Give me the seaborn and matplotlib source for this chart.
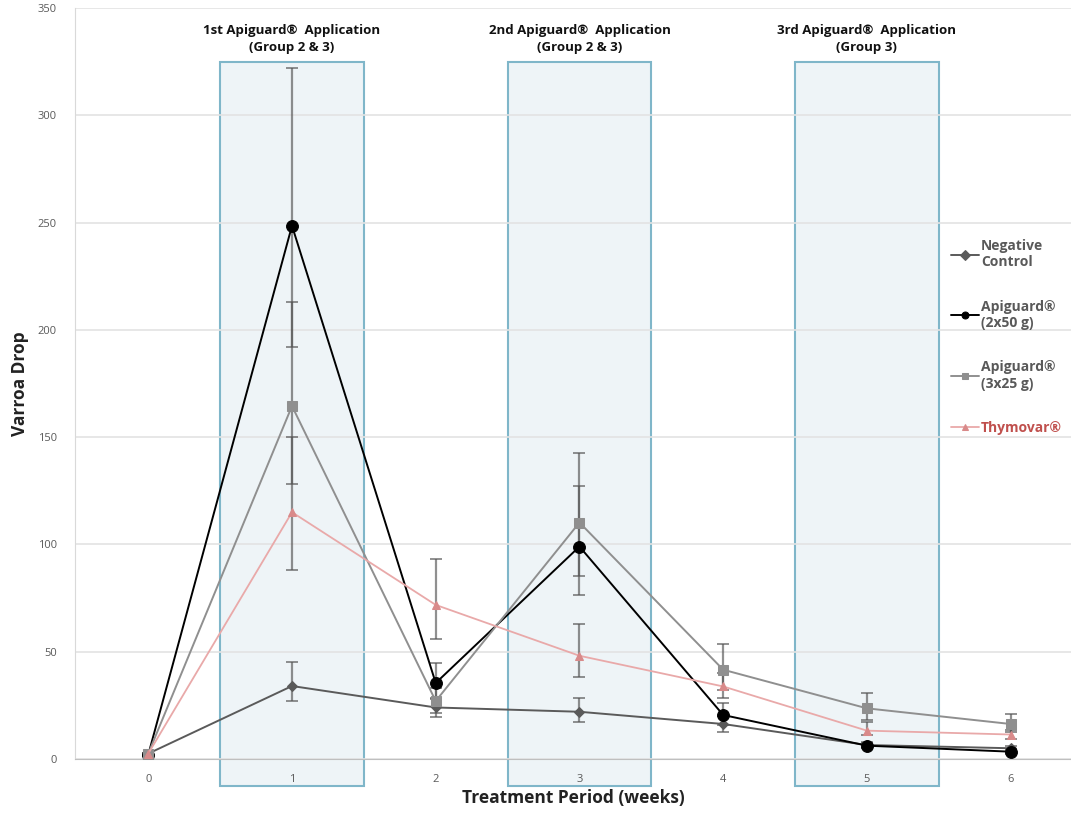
import numpy as np
import pandas as pd
import matplotlib.pyplot as plt
import seaborn as sns
from matplotlib.patches import Rectangle

# weeks of the treatment period
weeks = [0, 1, 2, 3, 4, 5, 6]

series_names = ["Negative\nControl", "Apiguard®\n(2x50 g)", "Apiguard®\n(3x25 g)", "Thymovar®"]

# mean varroa drop per week
neg_ctrl = [2.5, 34, 24, 22, 16.3, 6.5, 5]
api_2x50 = [2, 248.5, 35.4, 99, 20.5, 6.2, 3.4]
api_3x25 = [2.5, 164.5, 27, 110.2, 41.6, 23.6, 16.3]
thymovar = [2.5, 115, 71.8, 48.1, 33.8, 13.2, 11.4]

# error bar ends (lower, upper)
neg_lo = [2, 27, 19.6, 17, 12.7, 5, 4]
neg_hi = [3, 45, 28.5, 28.6, 20, 8, 6]
a50_lo = [1.5, 192, 28, 76.4, 16, 5, 2.5]
a50_hi = [2.5, 322, 44.9, 127.3, 26.2, 7.5, 4.5]
a25_lo = [2, 128, 21.4, 85.3, 32, 18.2, 12.5]
a25_hi = [3, 213, 33, 142.7, 53.6, 30.6, 21]
thy_lo = [2, 88, 56, 38, 28.5, 11, 9.5]
thy_hi = [3, 150, 93.2, 62.7, 40, 17.4, 13.5]

# Apiguard application weeks and their captions
app_weeks = [1, 3, 5]
app_labels = [
    "1st Apiguard®  Application\n(Group 2 & 3)",
    "2nd Apiguard®  Application\n(Group 2 & 3)",
    "3rd Apiguard®  Application\n(Group 3)",
]

means = [neg_ctrl, api_2x50, api_3x25, thymovar]
lows = [neg_lo, a50_lo, a25_lo, thy_lo]
highs = [neg_hi, a50_hi, a25_hi, thy_hi]

df = pd.concat(
    [
        pd.DataFrame({"week": weeks, "drop": m, "lo": lo, "hi": hi, "group": name})
        for name, m, lo, hi in zip(series_names, means, lows, highs)
    ],
    ignore_index=True,
)

sns.set_style("white")
plt.rcParams["font.family"] = ["Open Sans", "DejaVu Sans"]

palette = {
    series_names[0]: "#5a5a5a",
    series_names[1]: "#000000",
    series_names[2]: "#8f8f8f",
    series_names[3]: "#e9a9a9",
}
marker_map = {
    series_names[0]: "D",
    series_names[1]: "o",
    series_names[2]: "s",
    series_names[3]: "^",
}
msize = {series_names[0]: 5, series_names[1]: 8.5, series_names[2]: 7.5, series_names[3]: 6}
mface = {
    series_names[0]: "#5a5a5a",
    series_names[1]: "#000000",
    series_names[2]: "#8f8f8f",
    series_names[3]: "#d98a8a",
}

fig = plt.figure(figsize=(10.71, 8.14), dpi=100)
ax = fig.add_axes([0.07, 0.0676, 0.93, 0.9226])

# application windows (below the grid so gridlines and tick labels stay visible)
for wk, lab in zip(app_weeks, app_labels):
    ax.add_patch(
        Rectangle(
            (wk - 0.5, -12.7), 1.0, 337.7,
            facecolor="#eef4f7", edgecolor="#7fb6c9", linewidth=1.5,
            clip_on=False, zorder=0.2,
        )
    )
    ax.text(wk, 335.5, lab, ha="center", va="center", fontsize=9.5,
            fontweight="bold", color="#111111", linespacing=1.35)

# error bars
for name, lo, hi, m in zip(series_names, lows, highs, means):
    m = np.array(m)
    yerr = np.vstack([m - np.array(lo), np.array(hi) - m])
    ax.errorbar(weeks, m, yerr=yerr, fmt="none", ecolor="#555555", alpha=0.65,
                elinewidth=1.6, capsize=4, capthick=1.4, zorder=3)

for name in series_names:
    sub = df[df["group"] == name]
    sns.lineplot(
        data=sub, x="week", y="drop", color=palette[name], marker=marker_map[name],
        markersize=msize[name], markerfacecolor=mface[name], markeredgecolor=mface[name],
        linewidth=1.4 if name != series_names[3] else 1.3, label=name, ax=ax, zorder=4,
    )

ax.set_xlim(-0.51, 6.42)
ax.set_ylim(0, 350)
ax.set_yticks(range(0, 351, 50))
ax.set_xticks(weeks)
ax.yaxis.grid(True, color="#e3e3e3", linewidth=1.2)
ax.set_axisbelow(True)
for s in ["top", "right"]:
    ax.spines[s].set_visible(False)
ax.spines["left"].set_color("#d9d9d9")
ax.spines["bottom"].set_color("#bfbfbf")
ax.tick_params(axis="x", length=0, labelsize=8, labelcolor="#595959", pad=11)
ax.tick_params(axis="y", length=0, labelsize=8, labelcolor="#595959", pad=13)

ax.set_xlabel("Treatment Period (weeks)", fontsize=12.5, fontweight="bold",
              color="#222222", labelpad=3)
ax.set_ylabel("Varroa Drop", fontsize=12.5, fontweight="bold",
              color="#222222", labelpad=6)

leg = ax.legend(
    loc="upper left", bbox_to_anchor=(0.874, 0.70), frameon=False, fontsize=10,
    handlelength=2.0, handletextpad=0.15, labelspacing=2.2, borderaxespad=0,
)
for txt, name in zip(leg.get_texts(), series_names):
    txt.set_fontweight("bold")
    txt.set_color("#c0504d" if name == series_names[3] else "#595959")
for h in leg.legend_handles:
    h.set_markersize(5)

fig.savefig("out.png", dpi=100)
